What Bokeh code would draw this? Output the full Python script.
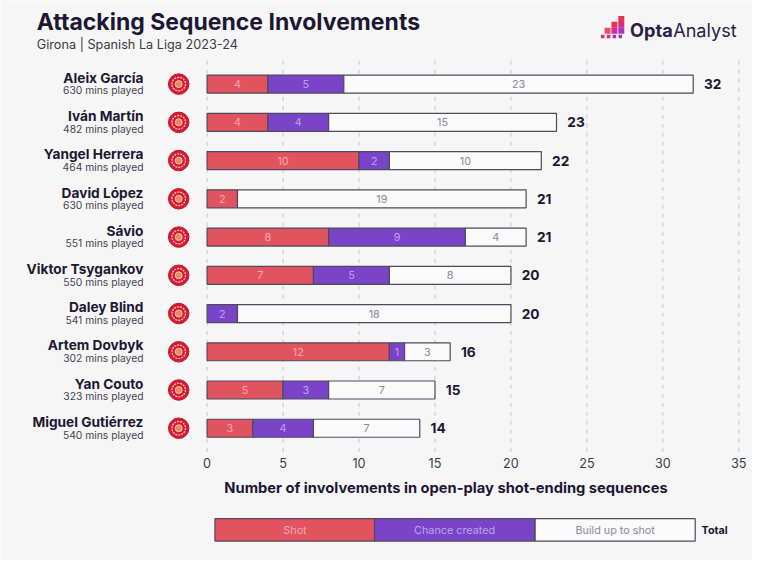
from bokeh.plotting import figure
from bokeh.models import Range1d, ColumnDataSource
from bokeh.core.properties import value
from bokeh.embed import file_html
from bokeh.resources import INLINE

# ---------------- data ----------------
players = ["Aleix García", "Iván Martín", "Yangel Herrera", "David López", "Sávio",
           "Viktor Tsygankov", "Daley Blind", "Artem Dovbyk", "Yan Couto", "Miguel Gutiérrez"]
minutes = [630, 482, 464, 630, 551, 550, 541, 302, 323, 540]
shot = [4, 4, 10, 2, 8, 7, 0, 12, 5, 3]
chance = [5, 4, 2, 0, 9, 5, 2, 1, 3, 4]
buildup = [23, 15, 10, 19, 4, 8, 18, 3, 7, 7]
ticks = [0, 5, 10, 15, 20, 25, 30, 35]
title = "Attacking Sequence Involvements"
subtitle = "Girona | Spanish La Liga 2023-24"
xlabel = "Number of involvements in open-play shot-ending sequences"
legend_items = ["Shot", "Chance created", "Build up to shot"]

# ---------------- style ----------------
BG = "#f6f6f7"
RED = "#e0535f"
PURPLE = "#7a44c8"
WHITE = "#fafafa"
EDGE = "#4d4a5c"
DARK = "#1d1733"
RED_TXT = "#f6a9b0"
PUR_TXT = "#bba3ee"
WHT_TXT = "#8b8a96"
FONT = "Inter"

W, H = 752, 560
REF_W, REF_H = 768, 576
PX0, PXU = 211.0, 543.0 / 35.0      # layout x of value 0, px per unit
PY0, PYU = 86.0, 39.33               # layout y of first row, px per row


def X(px):
    return (px - PX0) / PXU


def Y(py):
    return (py - PY0) / PYU


def fs(v):
    return f"{v * W / REF_W:.1f}px"


p = figure(width=W, height=H, output_backend="svg", toolbar_location=None,
           x_range=Range1d(X(0), X(REF_W)), y_range=Range1d(Y(REF_H), Y(0)),
           min_border=0, background_fill_color=BG, border_fill_color=BG,
           outline_line_color=None)
p.axis.visible = False
p.grid.visible = False

n = len(players)
rows = list(range(n))
totals = [s + c + b for s, c, b in zip(shot, chance, buildup)]

# grid lines
p.segment(x0=ticks, x1=ticks, y0=[Y(62)] * len(ticks), y1=[Y(466)] * len(ticks),
          line_color="#c4c4c8", line_width=1, line_dash="4 5")

# tick labels
p.text(x=ticks, y=[Y(476)] * len(ticks), text=[str(t) for t in ticks],
       text_font=value(FONT), text_font_size=fs(13), text_color="#3a3a44",
       text_align="center", text_baseline="middle")

# bars
BH = 18.5 / PYU


def seg(lefts, rights, color, txtcolor):
    ys, ls, rs, labs = [], [], [], []
    for i in rows:
        if rights[i] > lefts[i]:
            ys.append(i); ls.append(lefts[i]); rs.append(rights[i]); labs.append(str(rights[i] - lefts[i]))
    src = ColumnDataSource(dict(y=ys, left=ls, right=rs, mid=[(a + b) / 2 for a, b in zip(ls, rs)], lab=labs))
    p.hbar(y="y", left="left", right="right", height=BH, source=src,
           fill_color=color, line_color=EDGE, line_width=1.2)
    p.text(x="mid", y="y", text="lab", source=src, text_font=value(FONT), text_font_size=fs(11),
           text_color=txtcolor, text_align="center", text_baseline="middle")


s_end = shot
c_end = [s + c for s, c in zip(shot, chance)]
seg([0] * n, s_end, RED, RED_TXT)
seg(s_end, c_end, PURPLE, PUR_TXT)
seg(c_end, totals, WHITE, WHT_TXT)

# totals
p.text(x=[t + 11 / PXU for t in totals], y=rows, text=[str(t) for t in totals],
       text_font=value(FONT), text_font_style="bold", text_font_size=fs(14),
       text_color=DARK, text_align="left", text_baseline="middle")

# player names and minutes
p.text(x=[X(146)] * n, y=[r - 6.5 / PYU for r in rows], text=players,
       text_font=value(FONT), text_font_style="bold", text_font_size=fs(14),
       text_color=DARK, text_align="right", text_baseline="middle")
p.text(x=[X(146)] * n, y=[r + 6.5 / PYU for r in rows], text=[f"{m} mins played" for m in minutes],
       text_font=value(FONT), text_font_size=fs(10.5),
       text_color="#44434f", text_align="right", text_baseline="middle")

# club badges
bx = [X(182)] * n
p.scatter(x=bx, y=rows, size=20.5, marker="circle", fill_color="#d81b30", line_color="#c0152a", line_width=1)
p.scatter(x=bx, y=rows, size=13.5, marker="circle", fill_color=None, line_color="#ffd6d6", line_width=1.2, line_dash="2 1")
p.scatter(x=bx, y=rows, size=7, marker="circle", fill_color="#f08a5a", line_color="#ffe0e0", line_width=0.8)

# axis label
p.text(x=[X(455)], y=[Y(501)], text=[xlabel], text_font=value(FONT), text_font_style="bold",
       text_font_size=fs(15), text_color=DARK, text_align="center", text_baseline="middle")

# title block
p.text(x=[X(37)], y=[Y(22)], text=[title], text_font=value(FONT), text_font_style="bold",
       text_font_size=fs(23.5), text_color=DARK, text_align="left", text_baseline="middle")
p.text(x=[X(37)], y=[Y(45)], text=[subtitle], text_font=value(FONT),
       text_font_size=fs(13), text_color="#3a3a44", text_align="left", text_baseline="middle")

# logo
sq_x = [634, 627, 634, 620, 627, 634, 615, 621, 627, 633]
sq_y = [19, 25, 25, 31, 31, 31, 37, 37, 37, 37]
sq_c = ["#e8334d", "#e8334d", "#d42a8a", "#ef4a6a", "#cc2e99", "#a935c0", "#e8334d", "#d42a8a", "#b030b0", "#8a3cc8"]
sq_s = [6, 6, 6, 6, 6, 6, 3.5, 3.5, 3.5, 3.5]
p.scatter(x=[X(v) for v in sq_x], y=[Y(v) for v in sq_y], size=sq_s, marker="square",
          fill_color=sq_c, line_color=None)
p.text(x=[X(643)], y=[Y(30)], text=["Opta"], text_font=value(FONT), text_font_style="bold",
       text_font_size=fs(18.5), text_color="#2a2045", text_align="left", text_baseline="middle")
p.text(x=[X(687)], y=[Y(30)], text=["Analyst"], text_font=value(FONT),
       text_font_size=fs(18.5), text_color="#2a2045", text_align="left", text_baseline="middle")

# legend
lx = [219, 382, 546]
lw = 163.5
p.quad(left=[X(v) for v in lx], right=[X(v + lw) for v in lx], bottom=[Y(556)] * 3, top=[Y(533)] * 3,
       fill_color=[RED, PURPLE, WHITE], line_color=EDGE, line_width=1.2)
p.text(x=[X(v + lw / 2) for v in lx], y=[Y(545)] * 3, text=legend_items, text_font=value(FONT),
       text_font_size=fs(11), text_color=[RED_TXT, PUR_TXT, WHT_TXT], text_align="center",
       text_baseline="middle")
p.text(x=[X(716)], y=[Y(545)], text=["Total"], text_font=value(FONT), text_font_style="bold",
       text_font_size=fs(11), text_color=DARK, text_align="left", text_baseline="middle")

open("out.html", "w").write(file_html(p, INLINE))
